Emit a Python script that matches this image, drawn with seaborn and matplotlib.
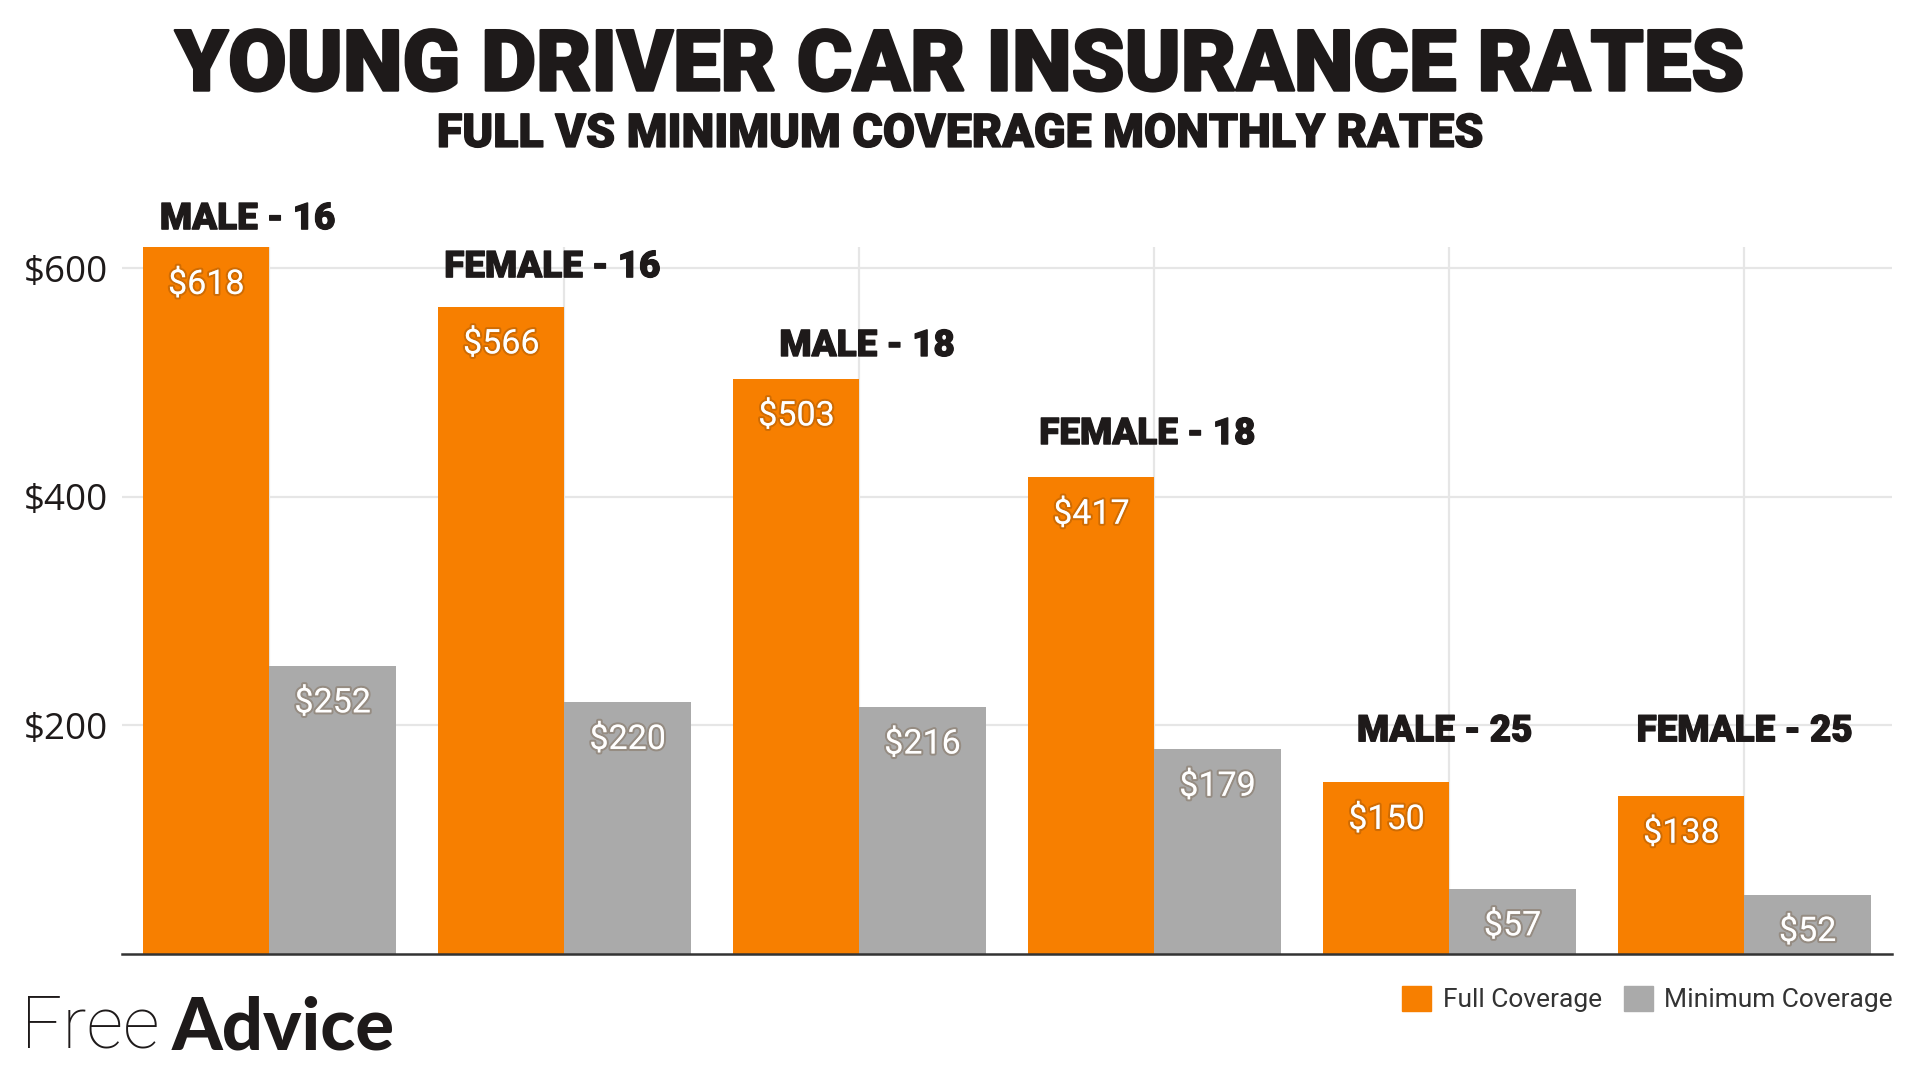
import matplotlib
matplotlib.use("Agg")
import matplotlib.pyplot as plt
import matplotlib.patheffects as pe
from matplotlib.patches import Patch
import pandas as pd
import seaborn as sns

# --- Data ---
groups = ["MALE - 16", "FEMALE - 16", "MALE - 18", "FEMALE - 18", "MALE - 25", "FEMALE - 25"]
full_coverage = [618, 566, 503, 417, 150, 138]
min_coverage = [252, 220, 216, 179, 57, 52]
series_names = ["Full Coverage", "Minimum Coverage"]
y_ticks = [200, 400, 600]

# --- Style ---
ORANGE = "#F77F00"
GREY = "#AAAAAA"
TEXT = "#1E1A1A"
# where each group heading sits in the original (baseline in data units, x nudge in categories)
label_base = [634, 592, 523, 446, 186, 186]
label_dx = [-0.075, -0.042, 0.025, -0.025, -0.017, 0.0]

sns.set_theme(style="white")
plt.rcParams["font.family"] = ["Roboto", "DejaVu Sans"]

df = pd.DataFrame({
    "group": groups * 2,
    "coverage": [series_names[0]] * len(groups) + [series_names[1]] * len(groups),
    "rate": full_coverage + min_coverage,
})

fig = plt.figure(figsize=(19.2, 10.8), dpi=100)
ax = fig.add_axes([0.0635, 0.1167, 0.9219, 0.6542])

sns.barplot(data=df, x="group", y="rate", hue="coverage", order=groups,
            hue_order=series_names, palette=[ORANGE, GREY], width=0.855,
            saturation=1, legend=False, linewidth=0, ax=ax, zorder=3)

ax.set_xlim(-0.5, len(groups) - 0.5)
ax.set_ylim(0, 618)
ax.set_axisbelow(True)
ax.grid(True, axis="both", color="#E6E6E6", linewidth=1.6, zorder=0)
ax.set_yticks(y_ticks)
ax.set_yticklabels([f"${v}" for v in y_ticks], fontsize=26.5, color=TEXT,
                   family="Open Sans")
ax.tick_params(axis="y", length=0, pad=10)
ax.tick_params(axis="x", length=0, labelbottom=False)
ax.set_xlabel("")
ax.set_ylabel("")
for side in ["top", "right", "left"]:
    ax.spines[side].set_visible(False)
ax.spines["bottom"].set_color("#333333")
ax.spines["bottom"].set_linewidth(1.8)
ax.spines["bottom"].set_zorder(5)

# value labels inside the top of each bar
glow = [pe.withStroke(linewidth=3, foreground=(0.35, 0.2, 0.05, 0.25))]
for container in ax.containers:
    for bar in container:
        h = bar.get_height()
        ax.annotate(f"${h:.0f}", (bar.get_x() + bar.get_width() / 2, h),
                    xytext=(0, -27), textcoords="offset points",
                    ha="center", va="center", fontsize=24.5, color="white",
                    path_effects=glow, zorder=6)

# group headings above the bars
heavy = [pe.withStroke(linewidth=0.9, foreground=TEXT)]
for i, name in enumerate(groups):
    ax.text(i + label_dx[i], label_base[i], name, ha="center", va="baseline",
            fontsize=26.5, fontweight="black", color=TEXT, clip_on=False,
            path_effects=heavy, zorder=7)

# titles
fig.text(0.5, 0.938, "YOUNG DRIVER CAR INSURANCE RATES", ha="center", va="center",
         fontsize=61, fontweight="black", color=TEXT,
         path_effects=[pe.withStroke(linewidth=1.8, foreground=TEXT)])
fig.text(0.5, 0.876, "FULL VS MINIMUM COVERAGE MONTHLY RATES", ha="center",
         va="center", fontsize=33.5, fontweight="black", color=TEXT,
         path_effects=[pe.withStroke(linewidth=1.0, foreground=TEXT)])

# legend
handles = [Patch(facecolor=ORANGE, edgecolor=ORANGE),
           Patch(facecolor=GREY, edgecolor=GREY)]
fig.legend(handles, series_names, loc="center right", bbox_to_anchor=(0.986, 0.075),
           ncol=2, frameon=False, fontsize=19, handlelength=1.1, handleheight=1.1,
           handletextpad=0.45, columnspacing=0.8, borderaxespad=0, borderpad=0,
           labelcolor="#333333")

# logo
free = fig.text(0.011, 0.03, "Free", ha="left", va="baseline", fontsize=52,
                fontweight="light", family="Roboto", color=TEXT)
ax.annotate("Advice", xy=(1, 0), xycoords=free, xytext=(9, 0),
            textcoords="offset points", ha="left", va="bottom", fontsize=52,
            fontweight="black", family="Lato", color=TEXT, annotation_clip=False)

fig.savefig("out.png", dpi=100)
